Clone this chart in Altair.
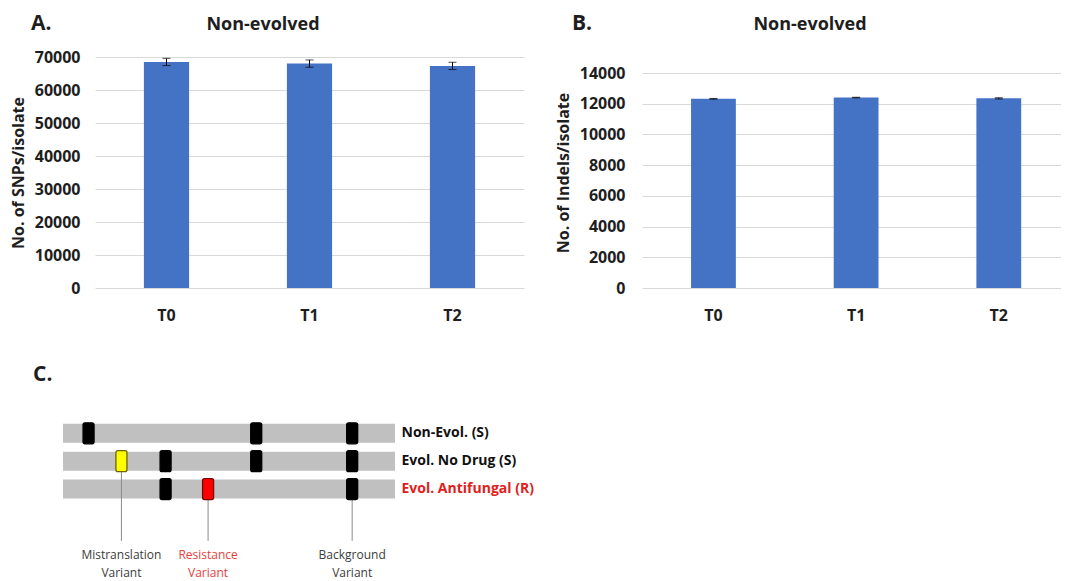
import altair as alt
import pandas as pd

FONT = "Open Sans"
TXT = "#1e1e1e"

# ---------------- data ----------------
times = ["T0", "T1", "T2"]
snps = [68500, 68000, 67300]
snps_err = [1100, 1100, 1100]
indels = [12320, 12400, 12350]
indels_err = [25, 20, 40]
snp_ticks = [0, 10000, 20000, 30000, 40000, 50000, 60000, 70000]
indel_ticks = [0, 2000, 4000, 6000, 8000, 10000, 12000, 14000]

row_names = ["Non-Evol. (S)", "Evol. No Drug (S)", "Evol. Antifungal (R)"]
row_ids = [1, 2, 3]
row_colors = ["#111111", "#111111", "#e0201b"]

marker_row = [1, 1, 1, 2, 2, 2, 2, 3, 3, 3]
marker_pos = [7.7, 58.2, 87.1, 17.6, 30.9, 58.2, 87.1, 30.9, 43.7, 87.1]
marker_kind = ["Background", "Background", "Background",
               "Mistranslation", "Background", "Background", "Background",
               "Background", "Resistance", "Background"]
kinds = ["Background", "Mistranslation", "Resistance"]
kind_fill = ["#000000", "#ffff00", "#ff0000"]
kind_stroke = ["#000000", "#6e6400", "#7a0000"]

callout_names = ["Mistranslation", "Resistance", "Background"]
callout_pos = [17.6, 43.7, 87.1]
callout_row = [2, 3, 3]
callout_colors = ["#3c3c3c", "#e8403a", "#3c3c3c"]


def bar_panel(values, errs, dmax, ticks, ytitle, letter, width, p_in, p_out, align,
              label_pad, title_pad, letter_x):
    df = pd.DataFrame({"time": times, "value": values, "err": errs})
    df["lo"] = df["value"] - df["err"]
    df["hi"] = df["value"] + df["err"]
    xs = alt.Scale(paddingInner=p_in, paddingOuter=p_out, align=align)
    xaxis = alt.Axis(title=None, labelAngle=0, domain=False, ticks=False,
                     labelFont=FONT, labelFontSize=16, labelFontWeight="bold",
                     labelColor=TXT, labelPadding=19)
    yaxis = alt.Axis(values=ticks, tickCount=len(ticks), format="d", grid=True,
                     gridColor="#d9d9d9", domain=False, ticks=False, labelFont=FONT,
                     labelOverlap=False, labelFontSize=16, labelFontWeight="bold",
                     labelColor=TXT, labelPadding=label_pad, title=ytitle, titleFont=FONT,
                     titleFontSize=16, titleFontWeight="bold", titleColor=TXT,
                     titlePadding=title_pad)
    ys = alt.Scale(domain=[0, dmax], nice=False, zero=True)
    xenc = alt.X("time:N", sort=times, scale=xs, axis=xaxis)
    base = alt.Chart(df)
    bars = base.mark_bar(color="#4472c4").encode(
        x=xenc, y=alt.Y("value:Q", scale=ys, axis=yaxis, title=ytitle))
    err = base.mark_rule(color="#000000", strokeWidth=1).encode(
        x=xenc, y=alt.Y("lo:Q", scale=ys, axis=yaxis, title=ytitle), y2="hi:Q")
    cap_lo = base.mark_tick(color="#000000", size=8, thickness=1).encode(
        x=xenc, y=alt.Y("lo:Q", scale=ys, axis=yaxis, title=ytitle))
    cap_hi = base.mark_tick(color="#000000", size=8, thickness=1).encode(
        x=xenc, y=alt.Y("hi:Q", scale=ys, axis=yaxis, title=ytitle))
    lab = alt.Chart(pd.DataFrame({"t": [letter]})).mark_text(
        font=FONT, fontSize=21, fontWeight="bold", color=TXT, align="left",
        baseline="middle").encode(text="t:N", x=alt.value(letter_x), y=alt.value(-33))
    ttl = alt.Chart(pd.DataFrame({"t": ["Non-evolved"]})).mark_text(
        font=FONT, fontSize=18, fontWeight="bold", color=TXT, align="center",
        baseline="middle").encode(text="t:N", x=alt.value(168), y=alt.value(-32))
    return alt.layer(bars, err, cap_lo, cap_hi, lab, ttl).properties(width=width, height=231)


panel_a = bar_panel(snps, snps_err, 70000, snp_ticks, "No. of SNPs/isolate", "A.",
                    429, 0.684, 0.342, 0.5, 15, 8, -64)
panel_b = bar_panel(indels, indels_err, 15042, indel_ticks, "No. of Indels/isolate", "B.",
                    419, 0.686, 0.3114, 0.552, 17, 8, -70)

# ---------------- panel C schematic ----------------
tracks_df = pd.DataFrame({"row": row_ids, "name": row_names,
                          "start": [0, 0, 0], "end": [100, 100, 100]})
markers_df = pd.DataFrame({"row": marker_row, "pos": marker_pos, "kind": marker_kind})
callout_df = pd.DataFrame({"name": callout_names, "pos": callout_pos,
                           "row": callout_row, "second": ["Variant"] * 3})

xs = alt.Scale(domain=[9.64, 100], nice=False, zero=False)
ys = alt.Scale(domain=[0.2, 6.3], reverse=True, nice=False, zero=False)

tracks = alt.Chart(tracks_df).mark_rule(color="#c0c0c0", strokeWidth=19, strokeCap="butt").encode(
    x=alt.X("start:Q", scale=xs, axis=None), x2="end:Q",
    y=alt.Y("row:Q", scale=ys, axis=None))

callouts = alt.Chart(callout_df).transform_calculate(yend="4.86").mark_rule(
    color="#8a8a8a", strokeWidth=1).encode(
    x=alt.X("pos:Q", scale=xs, axis=None), y=alt.Y("row:Q", scale=ys, axis=None),
    y2="yend:Q")

markers = alt.Chart(markers_df).mark_rect(width=11, height=21, cornerRadius=2,
                                          strokeWidth=1.3).encode(
    x=alt.X("pos:Q", scale=xs, axis=None), y=alt.Y("row:Q", scale=ys, axis=None),
    fill=alt.Fill("kind:N", scale=alt.Scale(domain=kinds, range=kind_fill), legend=None),
    stroke=alt.Stroke("kind:N", scale=alt.Scale(domain=kinds, range=kind_stroke), legend=None))

row_labels = alt.Chart(tracks_df).mark_text(
    font=FONT, fontSize=14, fontWeight="bold", align="left", baseline="middle", dx=6.5).encode(
    x=alt.X("end:Q", scale=xs, axis=None), y=alt.Y("row:Q", scale=ys, axis=None), text="name:N",
    color=alt.Color("name:N", scale=alt.Scale(domain=row_names, range=row_colors), legend=None))

cl1 = alt.Chart(callout_df).transform_calculate(ly="5.36").mark_text(
    font=FONT, fontSize=12, align="center", baseline="middle").encode(
    x=alt.X("pos:Q", scale=xs, axis=None), y=alt.Y("ly:Q", scale=ys, axis=None), text="name:N",
    color=alt.Color("name:N", scale=alt.Scale(domain=callout_names, range=callout_colors),
                    legend=None))
cl2 = alt.Chart(callout_df).transform_calculate(ly="6.03").mark_text(
    font=FONT, fontSize=12, align="center", baseline="middle").encode(
    x=alt.X("pos:Q", scale=xs, axis=None), y=alt.Y("ly:Q", scale=ys, axis=None), text="second:N",
    color=alt.Color("name:N", scale=alt.Scale(domain=callout_names, range=callout_colors),
                    legend=None))

c_lab = alt.Chart(pd.DataFrame({"t": ["C."]})).mark_text(
    font=FONT, fontSize=21, fontWeight="bold", color=TXT, align="left",
    baseline="middle").encode(text="t:N", x=alt.value(-62), y=alt.value(-36))

panel_c = alt.layer(tracks, callouts, markers, row_labels, cl1, cl2, c_lab).resolve_scale(
    color="independent").properties(width=300, height=170)

chart = alt.concat(panel_a, panel_b, panel_c, columns=2, bounds="flush",
                   spacing=alt.RowColnumber(row=123, column=118)).properties(
    padding={"left": 10, "top": 13, "right": 0, "bottom": 0},
).configure(background="white").configure_view(stroke=None)

chart.save("out.html", embed_options={"renderer": "svg", "actions": False})
